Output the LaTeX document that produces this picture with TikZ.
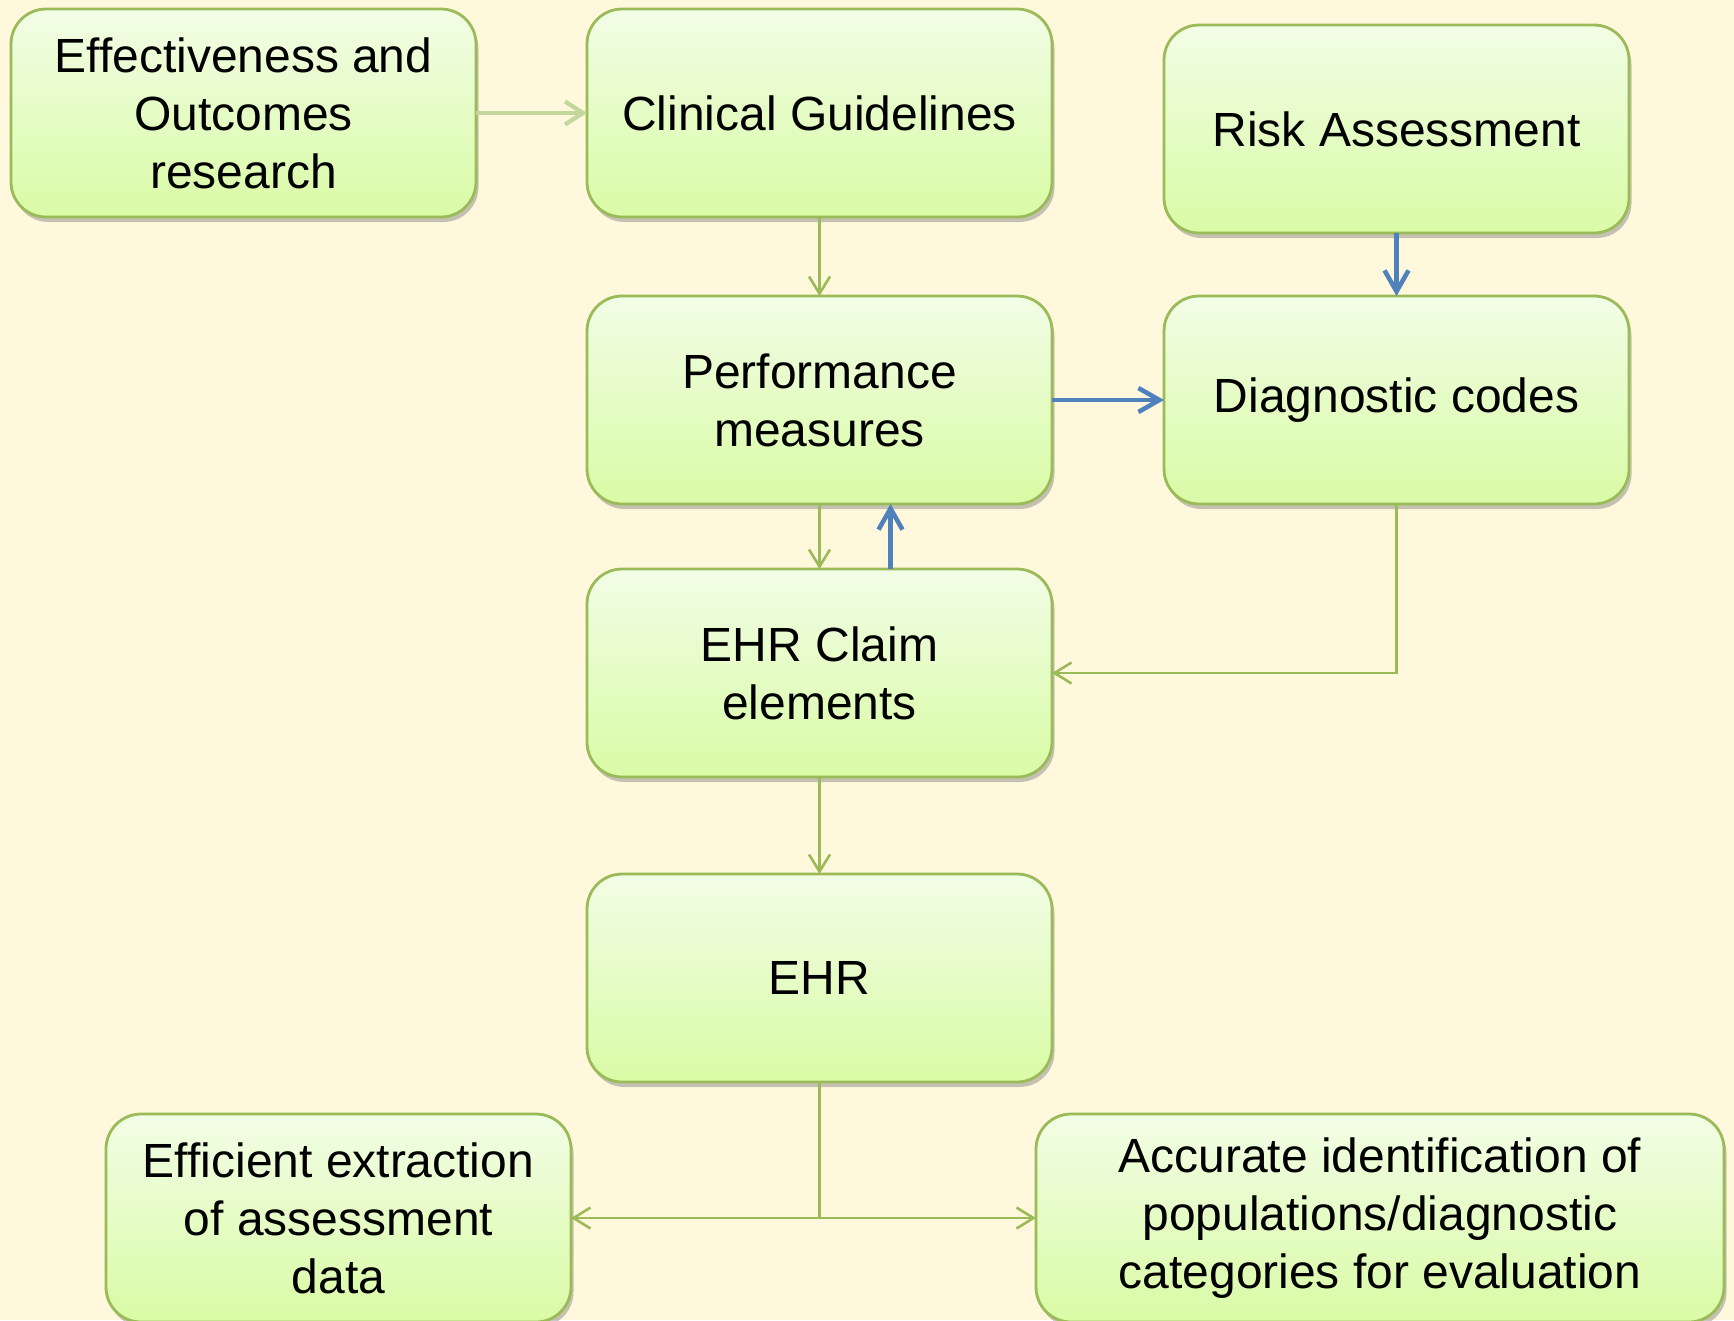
\documentclass[tikz,border=0pt]{standalone}
\usepackage{fontspec}
\setmainfont{Liberation Sans}
\usetikzlibrary{arrows.meta,shadows}
\usetikzlibrary{positioning,calc}
\definecolor{bgcol}{HTML}{FFF8DC}
\definecolor{boxline}{HTML}{9BBB59}
\definecolor{boxtop}{HTML}{F2FDE6}
\definecolor{boxbottom}{HTML}{D9FBA5}
\definecolor{linkcol}{HTML}{9BBB59}
\definecolor{paleline}{HTML}{C3D69B}
\definecolor{bluecol}{HTML}{4F81BD}
\tikzstyle{link}  = [-{Straight Barb[length=0.34cm,width=0.42cm]},linkcol,line width=1.5pt]
\tikzstyle{plain} = [linkcol,line width=1.5pt]
\tikzstyle{pale}  = [-{Straight Barb[length=0.36cm,width=0.46cm]},paleline,line width=2.4pt]
\tikzstyle{feed}  = [-{Straight Barb[length=0.42cm,width=0.48cm]},bluecol,line width=2.6pt]
\tikzset{
  basic box/.style = {
    shape = rectangle,
    align = center,
    minimum width = 9.3cm,
    minimum height = 4.16cm,
    inner sep = 0pt,
    outer sep = 0pt,
    font = \fontsize{27.3}{33}\selectfont,
    },
  green box/.style = {
    basic box,
    rounded corners = 0.7cm,
    draw = boxline,
    line width = 1.6pt,
    top color = boxtop,
    bottom color = boxbottom,
    drop shadow = {opacity=0.45, shadow xshift=0.05cm, shadow yshift=-0.1cm},
    },
  wide box/.style = {
    green box,
    minimum width = 13.76cm,
    },
}

\begin{document}
\begin{tikzpicture}
    \fill[bgcol] (0,0) rectangle (34.68,-26.4);
    \useasboundingbox (0,0) rectangle (34.68,-26.4);

    % top row
    \node [green box] (effect) at (4.87,-2.26) {Effectiveness and\\Outcomes\\research};
    \node [green box, right=2.22cm of effect] (clinic) {Clinical Guidelines};
    \node [green box, right=2.24cm of clinic, yshift=-0.32cm] (risk) {Risk Assessment};

    % middle column
    \node [green box, below=1.58cm of clinic] (perform) {Performance\\measures};
    \node [green box, right=2.24cm of perform] (diag) {Diagnostic codes};
    \node [green box, below=1.3cm of perform] (claim) {EHR Claim\\elements};
    \node [green box, below=1.94cm of claim] (ehr) {EHR};

    % bottom row
    \node [green box, below left=0.64cm and 0.32cm of ehr] (extract) {Efficient extraction\\of assessment\\data};
    \node [wide box, below right=0.64cm and -0.32cm of ehr] (accurate) {Accurate identification of\\populations/diagnostic\\categories for evaluation};

    \coordinate (split) at (ehr.south |- extract.east);

    % Paths

    \draw[pale] (effect.east) -- (clinic.west);
    \draw[link] (clinic.south) -- (perform.north);
    \draw[feed] (risk.south) -- (diag.north);
    \draw[feed] (perform.east) -- (diag.west);
    \draw[link] (perform.south) -- (claim.north);
    \draw[feed] ([xshift=1.42cm]claim.north) -- ([xshift=1.42cm]perform.south);
    \draw[link] (diag.south) |- (claim.east);
    \draw[link] (claim.south) -- (ehr.north);

    \draw[plain] (ehr.south) -- (split);
    \draw[link] (split) -- (extract.east);
    \draw[link] (split) -- (accurate.west);

\end{tikzpicture}
\end{document}
